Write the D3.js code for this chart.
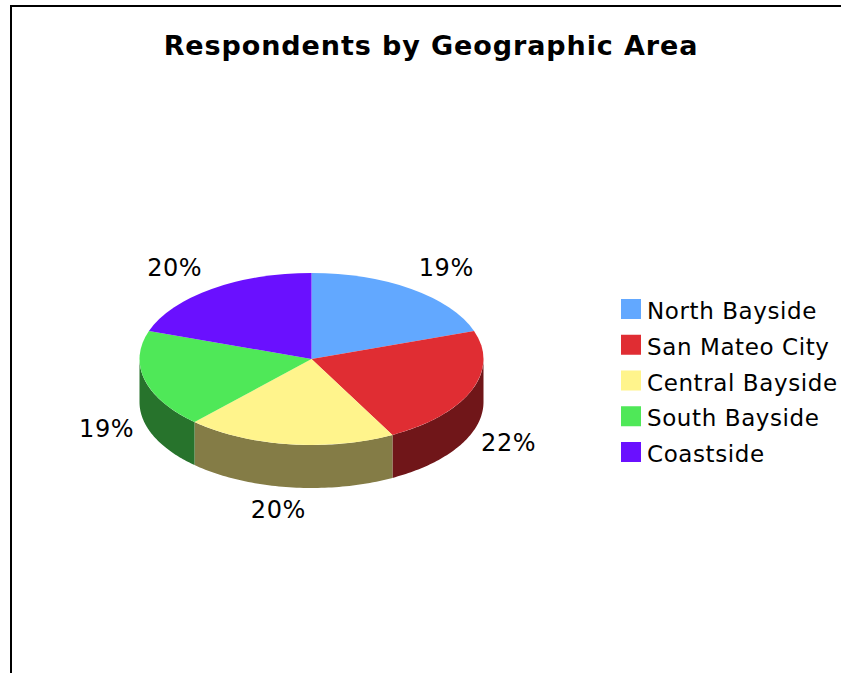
<!DOCTYPE html>
<html><head><meta charset="utf-8">
<script src="https://cdnjs.cloudflare.com/ajax/libs/d3/7.8.5/d3.min.js"></script>
<style>html,body{margin:0;padding:0;background:#fff;overflow:hidden}svg{display:block}text{font-family:"DejaVu Sans",sans-serif;fill:#000}</style>
</head><body><svg id="c" width="841" height="673"></svg>
<script>
const titleText = "Respondents by Geographic Area";
const categories = ["North Bayside","San Mateo City","Central Bayside","South Bayside","Coastside"];
const shareValues = [19.7,22.5,19.7,18.4,19.7];
const shareLabels = ["19%","22%","20%","19%","20%"];
const topColors = ["#62a8ff","#e02d33","#fff48c","#4fe858","#6a10ff"];
const sideColors = ["#31547f","#701619","#847c46","#27732c","#350880"];
const labelNudgeX = [35,37,-11,-38,-37];
const labelNudgeY = [-22,52,65,48,-22];

const svg = d3.select("#c");
const cx=311.5, cy=359, rx=172, ry=86, depth=43;

svg.append("rect").attr("x",11).attr("y",6).attr("width",850).attr("height",700)
  .attr("fill","#fff").attr("stroke","#000").attr("stroke-width",2);
svg.append("text").attr("x",431).attr("y",55).attr("text-anchor","middle")
  .attr("font-size",27).attr("letter-spacing",0.9).attr("font-weight","bold").text(titleText);

const arcs = d3.pie().sort(null)(shareValues);
const px = a => cx + rx*Math.sin(a), py = a => cy - ry*Math.cos(a);

// side walls: only the front half of the rim is visible
const wall = d3.area().x(a=>px(a)).y0(a=>py(a)).y1(a=>py(a)+depth);
const sides = svg.append("g");
arcs.forEach((d,i)=>{
  const a0=Math.max(d.startAngle,Math.PI/2), a1=Math.min(d.endAngle,Math.PI*1.5);
  if(a1<=a0) return;
  sides.append("path").attr("fill",sideColors[i])
    .attr("d",wall(d3.range(0,61).map(k=>a0+(a1-a0)*k/60)));
});

const topFace = svg.append("g").attr("transform",`translate(${cx},${cy}) scale(1,${ry/rx})`);
const arc = d3.arc().innerRadius(0).outerRadius(rx);
topFace.selectAll("path").data(arcs).join("path").attr("d",arc).attr("fill",(d,i)=>topColors[i]);

const mid = d => (d.startAngle+d.endAngle)/2;
svg.append("g").selectAll("text").data(arcs).join("text")
  .attr("text-anchor","middle").attr("font-size",24).attr("letter-spacing",0.6)
  .attr("x",(d,i)=>px(mid(d))+labelNudgeX[i])
  .attr("y",(d,i)=>py(mid(d))+labelNudgeY[i]+9)
  .text((d,i)=>shareLabels[i]);

const legend = svg.append("g");
const ly = d3.scalePoint().domain(categories).range([309,452]);
categories.forEach((c,i)=>{
  legend.append("rect").attr("x",621).attr("y",ly(c)-10).attr("width",20).attr("height",20).attr("fill",topColors[i]);
  legend.append("text").attr("x",647).attr("y",ly(c)+10).attr("font-size",23).attr("letter-spacing",0.6).text(c);
});
</script></body></html>
